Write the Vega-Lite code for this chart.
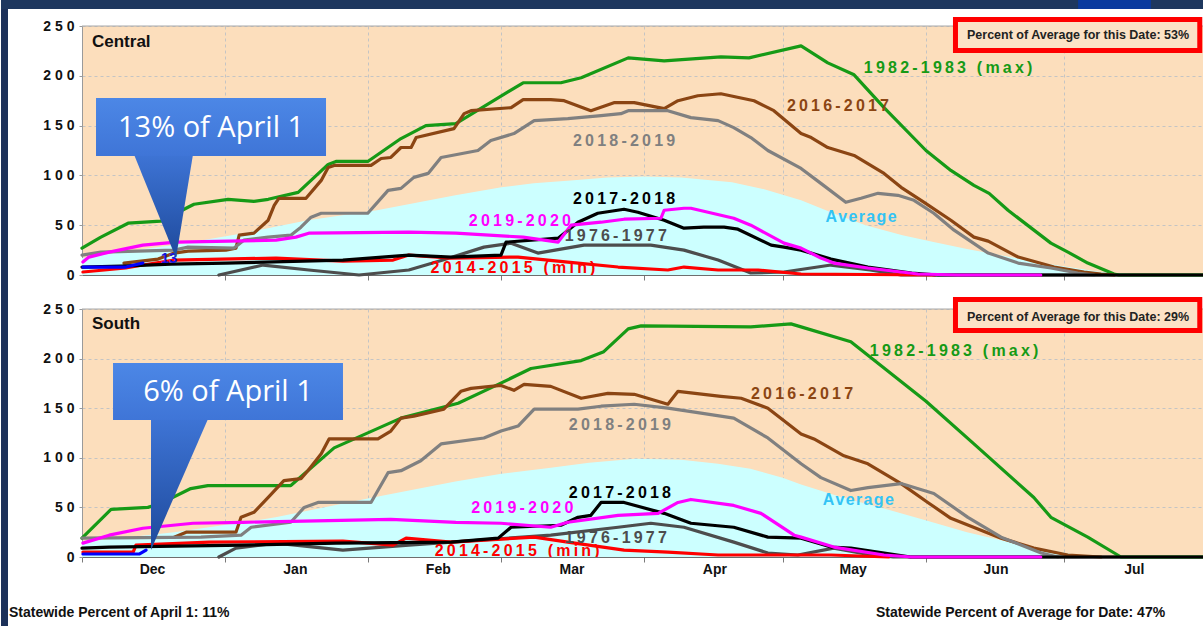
{
"$schema":"https://vega.github.io/schema/vega-lite/v6.json",
"background":"white",
"padding":0,
"spacing":0,
"config":{"view":{"fill":"#FCDEBC","stroke":null},"font":"Liberation Sans"},
"datasets":{
"one":[{}],
"cAvg":[{"d":0,"v":17},{"d":10,"v":24},{"d":20,"v":30},{"d":35,"v":42},{"d":49,"v":55},{"d":64,"v":65},{"d":81,"v":80},{"d":91,"v":88},{"d":98,"v":92},{"d":106,"v":95},{"d":114,"v":98},{"d":122,"v":99},{"d":130,"v":98},{"d":141,"v":93},{"d":148,"v":86},{"d":156,"v":75},{"d":163,"v":62},{"d":170,"v":50},{"d":178,"v":40},{"d":185,"v":33},{"d":192,"v":26},{"d":199,"v":20},{"d":207,"v":13},{"d":214,"v":8},{"d":221,"v":3},{"d":228,"v":1},{"d":235,"v":0},{"d":243.2,"v":0}],
"sAvg":[{"d":0,"v":15},{"d":10,"v":20},{"d":20,"v":25},{"d":35,"v":35},{"d":42,"v":40},{"d":62,"v":59},{"d":81,"v":76},{"d":91,"v":84},{"d":101.7,"v":90},{"d":110,"v":95},{"d":120,"v":99},{"d":130,"v":98},{"d":138,"v":94},{"d":145,"v":89},{"d":152,"v":80},{"d":156,"v":73},{"d":165,"v":60},{"d":174,"v":49},{"d":183,"v":37},{"d":192,"v":25},{"d":201,"v":15},{"d":210,"v":7},{"d":217,"v":1},{"d":225,"v":0},{"d":243.2,"v":0}],
"cLines":[
{"s":"1976-1977","d":29.7,"v":0},{"s":"1976-1977","d":39.3,"v":10},{"s":"1976-1977","d":49.2,"v":5},{"s":"1976-1977","d":60.1,"v":0},{"s":"1976-1977","d":70.9,"v":5},{"s":"1976-1977","d":78.3,"v":15},{"s":"1976-1977","d":87.2,"v":28},{"s":"1976-1977","d":93.1,"v":32},{"s":"1976-1977","d":98.9,"v":22},{"s":"1976-1977","d":108.9,"v":30},{"s":"1976-1977","d":123.4,"v":30},{"s":"1976-1977","d":130.6,"v":25},{"s":"1976-1977","d":138,"v":15},{"s":"1976-1977","d":145.1,"v":2},{"s":"1976-1977","d":152.3,"v":3},{"s":"1976-1977","d":162.5,"v":10},{"s":"1976-1977","d":171,"v":5},{"s":"1976-1977","d":177.7,"v":0},{"s":"1976-1977","d":243.2,"v":0},
{"s":"1982-1983","d":0,"v":27},{"s":"1982-1983","d":4.1,"v":38},{"s":"1982-1983","d":10,"v":52},{"s":"1982-1983","d":17.1,"v":54},{"s":"1982-1983","d":23,"v":68},{"s":"1982-1983","d":24.3,"v":71},{"s":"1982-1983","d":31.7,"v":76},{"s":"1982-1983","d":37.3,"v":74},{"s":"1982-1983","d":40.4,"v":76},{"s":"1982-1983","d":46.9,"v":83},{"s":"1982-1983","d":53.4,"v":111},{"s":"1982-1983","d":55.1,"v":114},{"s":"1982-1983","d":62,"v":114},{"s":"1982-1983","d":69.2,"v":137},{"s":"1982-1983","d":74.6,"v":150},{"s":"1982-1983","d":81.1,"v":152},{"s":"1982-1983","d":95.7,"v":193},{"s":"1982-1983","d":103.9,"v":193},{"s":"1982-1983","d":108.3,"v":198},{"s":"1982-1983","d":118.5,"v":218},{"s":"1982-1983","d":126.3,"v":215},{"s":"1982-1983","d":138.6,"v":219},{"s":"1982-1983","d":144.7,"v":218},{"s":"1982-1983","d":156,"v":230},{"s":"1982-1983","d":161.8,"v":213},{"s":"1982-1983","d":167.5,"v":201},{"s":"1982-1983","d":174,"v":168},{"s":"1982-1983","d":183.1,"v":125},{"s":"1982-1983","d":188.5,"v":105},{"s":"1982-1983","d":193.5,"v":90},{"s":"1982-1983","d":196.8,"v":82},{"s":"1982-1983","d":200.9,"v":65},{"s":"1982-1983","d":210.2,"v":32},{"s":"1982-1983","d":213.9,"v":23},{"s":"1982-1983","d":218.2,"v":12},{"s":"1982-1983","d":223.9,"v":1},{"s":"1982-1983","d":225,"v":0},{"s":"1982-1983","d":243.2,"v":0},
{"s":"2014-2015","d":0.2,"v":3},{"s":"2014-2015","d":9.5,"v":7},{"s":"2014-2015","d":13.2,"v":10},{"s":"2014-2015","d":20,"v":15},{"s":"2014-2015","d":42.1,"v":17},{"s":"2014-2015","d":56.6,"v":14},{"s":"2014-2015","d":67.5,"v":15},{"s":"2014-2015","d":70.9,"v":20},{"s":"2014-2015","d":80.1,"v":17},{"s":"2014-2015","d":94.6,"v":18},{"s":"2014-2015","d":105.4,"v":13},{"s":"2014-2015","d":116.3,"v":8},{"s":"2014-2015","d":127.1,"v":5},{"s":"2014-2015","d":130.6,"v":8},{"s":"2014-2015","d":138,"v":5},{"s":"2014-2015","d":146.7,"v":5},{"s":"2014-2015","d":156,"v":1},{"s":"2014-2015","d":185,"v":0},
{"s":"2016-2017","d":9.1,"v":12},{"s":"2016-2017","d":16.5,"v":16},{"s":"2016-2017","d":20,"v":22},{"s":"2016-2017","d":23,"v":24},{"s":"2016-2017","d":31.2,"v":25},{"s":"2016-2017","d":33.4,"v":27},{"s":"2016-2017","d":34.1,"v":40},{"s":"2016-2017","d":37.3,"v":42},{"s":"2016-2017","d":40.4,"v":55},{"s":"2016-2017","d":41.7,"v":70},{"s":"2016-2017","d":42.7,"v":77},{"s":"2016-2017","d":48.6,"v":77},{"s":"2016-2017","d":51.9,"v":95},{"s":"2016-2017","d":53.4,"v":108},{"s":"2016-2017","d":54.7,"v":110},{"s":"2016-2017","d":62.7,"v":110},{"s":"2016-2017","d":64.9,"v":117},{"s":"2016-2017","d":67,"v":118},{"s":"2016-2017","d":69.2,"v":128},{"s":"2016-2017","d":71.4,"v":128},{"s":"2016-2017","d":72.5,"v":138},{"s":"2016-2017","d":80.7,"v":147},{"s":"2016-2017","d":82.9,"v":162},{"s":"2016-2017","d":84.4,"v":165},{"s":"2016-2017","d":93.1,"v":168},{"s":"2016-2017","d":95.7,"v":176},{"s":"2016-2017","d":101.7,"v":176},{"s":"2016-2017","d":104.6,"v":175},{"s":"2016-2017","d":110.4,"v":165},{"s":"2016-2017","d":115.4,"v":173},{"s":"2016-2017","d":119.8,"v":173},{"s":"2016-2017","d":126.3,"v":167},{"s":"2016-2017","d":129.3,"v":175},{"s":"2016-2017","d":133.6,"v":180},{"s":"2016-2017","d":138.6,"v":182},{"s":"2016-2017","d":145.8,"v":175},{"s":"2016-2017","d":150.1,"v":165},{"s":"2016-2017","d":156,"v":142},{"s":"2016-2017","d":158.2,"v":138},{"s":"2016-2017","d":161.8,"v":128},{"s":"2016-2017","d":167.5,"v":120},{"s":"2016-2017","d":174,"v":102},{"s":"2016-2017","d":177.7,"v":88},{"s":"2016-2017","d":182.7,"v":73},{"s":"2016-2017","d":188.5,"v":55},{"s":"2016-2017","d":193.5,"v":38},{"s":"2016-2017","d":196.6,"v":34},{"s":"2016-2017","d":203.1,"v":18},{"s":"2016-2017","d":210.9,"v":8},{"s":"2016-2017","d":217.4,"v":3},{"s":"2016-2017","d":221.1,"v":1},{"s":"2016-2017","d":224,"v":0},
{"s":"2018-2019","d":0,"v":20},{"s":"2018-2019","d":4.1,"v":23},{"s":"2018-2019","d":20,"v":25},{"s":"2018-2019","d":23,"v":28},{"s":"2018-2019","d":33,"v":27},{"s":"2018-2019","d":35.1,"v":35},{"s":"2018-2019","d":40.4,"v":38},{"s":"2018-2019","d":45.3,"v":40},{"s":"2018-2019","d":47.5,"v":48},{"s":"2018-2019","d":49.7,"v":58},{"s":"2018-2019","d":51.9,"v":62},{"s":"2018-2019","d":62,"v":62},{"s":"2018-2019","d":66.4,"v":85},{"s":"2018-2019","d":69.2,"v":87},{"s":"2018-2019","d":72,"v":98},{"s":"2018-2019","d":75.1,"v":102},{"s":"2018-2019","d":77.9,"v":118},{"s":"2018-2019","d":85.9,"v":125},{"s":"2018-2019","d":88.7,"v":135},{"s":"2018-2019","d":93.7,"v":142},{"s":"2018-2019","d":98.1,"v":155},{"s":"2018-2019","d":105.4,"v":157},{"s":"2018-2019","d":112.6,"v":160},{"s":"2018-2019","d":116.9,"v":162},{"s":"2018-2019","d":118.5,"v":165},{"s":"2018-2019","d":127.1,"v":165},{"s":"2018-2019","d":132.1,"v":158},{"s":"2018-2019","d":138,"v":155},{"s":"2018-2019","d":141.4,"v":148},{"s":"2018-2019","d":145.1,"v":138},{"s":"2018-2019","d":148.8,"v":125},{"s":"2018-2019","d":156,"v":107},{"s":"2018-2019","d":160.3,"v":92},{"s":"2018-2019","d":165.7,"v":73},{"s":"2018-2019","d":169,"v":77},{"s":"2018-2019","d":172.7,"v":82},{"s":"2018-2019","d":177,"v":80},{"s":"2018-2019","d":180.5,"v":75},{"s":"2018-2019","d":184.8,"v":62},{"s":"2018-2019","d":189.2,"v":45},{"s":"2018-2019","d":196.6,"v":22},{"s":"2018-2019","d":203.1,"v":12},{"s":"2018-2019","d":210.2,"v":7},{"s":"2018-2019","d":216,"v":2},{"s":"2018-2019","d":219.6,"v":0},
{"s":"2017-2018","d":0,"v":8},{"s":"2017-2018","d":8.5,"v":9},{"s":"2017-2018","d":19.3,"v":11},{"s":"2017-2018","d":31.2,"v":12},{"s":"2017-2018","d":56.6,"v":15},{"s":"2017-2018","d":70.9,"v":20},{"s":"2017-2018","d":80.1,"v":18},{"s":"2017-2018","d":90.9,"v":20},{"s":"2017-2018","d":92,"v":33},{"s":"2017-2018","d":103.3,"v":37},{"s":"2017-2018","d":107.6,"v":53},{"s":"2017-2018","d":111.9,"v":62},{"s":"2017-2018","d":117.6,"v":66},{"s":"2017-2018","d":120.6,"v":63},{"s":"2017-2018","d":126.3,"v":55},{"s":"2017-2018","d":130.6,"v":47},{"s":"2017-2018","d":134.9,"v":48},{"s":"2017-2018","d":139.3,"v":48},{"s":"2017-2018","d":142.3,"v":46},{"s":"2017-2018","d":149.5,"v":30},{"s":"2017-2018","d":152.3,"v":28},{"s":"2017-2018","d":156,"v":25},{"s":"2017-2018","d":162.5,"v":16},{"s":"2017-2018","d":170.5,"v":8},{"s":"2017-2018","d":180,"v":2},{"s":"2017-2018","d":185.7,"v":0},{"s":"2017-2018","d":243.2,"v":0},
{"s":"2019-2020","d":0.2,"v":13},{"s":"2019-2020","d":1.5,"v":18},{"s":"2019-2020","d":5.9,"v":23},{"s":"2019-2020","d":13.2,"v":30},{"s":"2019-2020","d":20.4,"v":33},{"s":"2019-2020","d":42.1,"v":35},{"s":"2019-2020","d":46.4,"v":38},{"s":"2019-2020","d":49.2,"v":42},{"s":"2019-2020","d":70.9,"v":43},{"s":"2019-2020","d":81.1,"v":42},{"s":"2019-2020","d":95.7,"v":38},{"s":"2019-2020","d":103.3,"v":33},{"s":"2019-2020","d":106.1,"v":50},{"s":"2019-2020","d":112.6,"v":53},{"s":"2019-2020","d":117.6,"v":56},{"s":"2019-2020","d":125.6,"v":57},{"s":"2019-2020","d":126.3,"v":65},{"s":"2019-2020","d":130.6,"v":67},{"s":"2019-2020","d":132.1,"v":67},{"s":"2019-2020","d":141.4,"v":57},{"s":"2019-2020","d":145.1,"v":50},{"s":"2019-2020","d":152.3,"v":32},{"s":"2019-2020","d":156,"v":27},{"s":"2019-2020","d":160.3,"v":17},{"s":"2019-2020","d":163.1,"v":12},{"s":"2019-2020","d":170.5,"v":7},{"s":"2019-2020","d":181.4,"v":1},{"s":"2019-2020","d":190,"v":0},{"s":"2019-2020","d":208,"v":0},
{"s":"Current","d":0.2,"v":8},{"s":"Current","d":9.5,"v":8},{"s":"Current","d":13.2,"v":12}
],
"sLines":[
{"s":"1976-1977","d":29.7,"v":0},{"s":"1976-1977","d":33.4,"v":9},{"s":"1976-1977","d":42.1,"v":14},{"s":"1976-1977","d":56.6,"v":7},{"s":"1976-1977","d":70.9,"v":12},{"s":"1976-1977","d":80.1,"v":15},{"s":"1976-1977","d":101.7,"v":22},{"s":"1976-1977","d":116.3,"v":30},{"s":"1976-1977","d":123.4,"v":34},{"s":"1976-1977","d":130.6,"v":30},{"s":"1976-1977","d":141.4,"v":15},{"s":"1976-1977","d":148.8,"v":4},{"s":"1976-1977","d":155.3,"v":2},{"s":"1976-1977","d":163.1,"v":9},{"s":"1976-1977","d":170,"v":3},{"s":"1976-1977","d":176,"v":0},{"s":"1976-1977","d":243.2,"v":0},
{"s":"1982-1983","d":0,"v":19},{"s":"1982-1983","d":6.3,"v":48},{"s":"1982-1983","d":14.3,"v":50},{"s":"1982-1983","d":17.1,"v":54},{"s":"1982-1983","d":23.6,"v":69},{"s":"1982-1983","d":27.3,"v":72},{"s":"1982-1983","d":45.3,"v":72},{"s":"1982-1983","d":54.7,"v":110},{"s":"1982-1983","d":69.2,"v":140},{"s":"1982-1983","d":81.6,"v":155},{"s":"1982-1983","d":90.3,"v":174},{"s":"1982-1983","d":97.4,"v":190},{"s":"1982-1983","d":108.3,"v":198},{"s":"1982-1983","d":113.2,"v":207},{"s":"1982-1983","d":118.5,"v":230},{"s":"1982-1983","d":121.3,"v":233},{"s":"1982-1983","d":145.1,"v":232},{"s":"1982-1983","d":153.8,"v":235},{"s":"1982-1983","d":156,"v":232},{"s":"1982-1983","d":166.8,"v":217},{"s":"1982-1983","d":183.1,"v":157},{"s":"1982-1983","d":193.5,"v":114},{"s":"1982-1983","d":206.5,"v":60},{"s":"1982-1983","d":210.2,"v":40},{"s":"1982-1983","d":218.2,"v":20},{"s":"1982-1983","d":225.4,"v":0},{"s":"1982-1983","d":243.2,"v":0},
{"s":"2014-2015","d":0.2,"v":5},{"s":"2014-2015","d":11.1,"v":5},{"s":"2014-2015","d":11.7,"v":12},{"s":"2014-2015","d":27.6,"v":15},{"s":"2014-2015","d":56.6,"v":16},{"s":"2014-2015","d":67.5,"v":12},{"s":"2014-2015","d":70.3,"v":19},{"s":"2014-2015","d":80.1,"v":15},{"s":"2014-2015","d":98.1,"v":20},{"s":"2014-2015","d":105.4,"v":15},{"s":"2014-2015","d":117.6,"v":7},{"s":"2014-2015","d":127.1,"v":5},{"s":"2014-2015","d":138,"v":2},{"s":"2014-2015","d":162.5,"v":2},{"s":"2014-2015","d":175,"v":0},
{"s":"2016-2017","d":20,"v":20},{"s":"2016-2017","d":22.6,"v":25},{"s":"2016-2017","d":33.4,"v":25},{"s":"2016-2017","d":34.5,"v":40},{"s":"2016-2017","d":37.3,"v":45},{"s":"2016-2017","d":40.4,"v":60},{"s":"2016-2017","d":43.8,"v":77},{"s":"2016-2017","d":47.5,"v":79},{"s":"2016-2017","d":49,"v":87},{"s":"2016-2017","d":51.9,"v":104},{"s":"2016-2017","d":53.6,"v":119},{"s":"2016-2017","d":64.2,"v":119},{"s":"2016-2017","d":67,"v":127},{"s":"2016-2017","d":69.2,"v":140},{"s":"2016-2017","d":72,"v":142},{"s":"2016-2017","d":78.5,"v":149},{"s":"2016-2017","d":82.2,"v":167},{"s":"2016-2017","d":84.4,"v":170},{"s":"2016-2017","d":90.9,"v":173},{"s":"2016-2017","d":93.7,"v":168},{"s":"2016-2017","d":95.9,"v":174},{"s":"2016-2017","d":101.7,"v":172},{"s":"2016-2017","d":108.3,"v":160},{"s":"2016-2017","d":114.1,"v":165},{"s":"2016-2017","d":119.8,"v":164},{"s":"2016-2017","d":127.1,"v":154},{"s":"2016-2017","d":129.3,"v":167},{"s":"2016-2017","d":138.6,"v":162},{"s":"2016-2017","d":143,"v":160},{"s":"2016-2017","d":148.8,"v":150},{"s":"2016-2017","d":156,"v":124},{"s":"2016-2017","d":158.8,"v":119},{"s":"2016-2017","d":165.3,"v":102},{"s":"2016-2017","d":170.5,"v":94},{"s":"2016-2017","d":177.7,"v":74},{"s":"2016-2017","d":183.5,"v":55},{"s":"2016-2017","d":188.5,"v":39},{"s":"2016-2017","d":199.4,"v":19},{"s":"2016-2017","d":206.5,"v":9},{"s":"2016-2017","d":213.9,"v":2},{"s":"2016-2017","d":221.1,"v":0},
{"s":"2018-2019","d":0,"v":19},{"s":"2018-2019","d":25.8,"v":20},{"s":"2018-2019","d":34.5,"v":22},{"s":"2018-2019","d":36.7,"v":30},{"s":"2018-2019","d":45.3,"v":35},{"s":"2018-2019","d":48.2,"v":50},{"s":"2018-2019","d":51.2,"v":55},{"s":"2018-2019","d":62.7,"v":55},{"s":"2018-2019","d":66.4,"v":85},{"s":"2018-2019","d":69.2,"v":87},{"s":"2018-2019","d":73.5,"v":97},{"s":"2018-2019","d":77.9,"v":114},{"s":"2018-2019","d":87.2,"v":120},{"s":"2018-2019","d":90.9,"v":127},{"s":"2018-2019","d":94.6,"v":132},{"s":"2018-2019","d":98.1,"v":149},{"s":"2018-2019","d":107.6,"v":149},{"s":"2018-2019","d":112.6,"v":152},{"s":"2018-2019","d":119.8,"v":154},{"s":"2018-2019","d":127.1,"v":150},{"s":"2018-2019","d":134.3,"v":145},{"s":"2018-2019","d":141.4,"v":140},{"s":"2018-2019","d":148.8,"v":120},{"s":"2018-2019","d":156,"v":94},{"s":"2018-2019","d":160.3,"v":80},{"s":"2018-2019","d":166.8,"v":67},{"s":"2018-2019","d":170.5,"v":70},{"s":"2018-2019","d":177.7,"v":74},{"s":"2018-2019","d":184.8,"v":64},{"s":"2018-2019","d":192.2,"v":40},{"s":"2018-2019","d":199.4,"v":20},{"s":"2018-2019","d":208.1,"v":4},{"s":"2018-2019","d":211.7,"v":0},
{"s":"2017-2018","d":0,"v":9},{"s":"2017-2018","d":5.9,"v":10},{"s":"2017-2018","d":34.9,"v":12},{"s":"2017-2018","d":55.1,"v":14},{"s":"2017-2018","d":80.1,"v":15},{"s":"2017-2018","d":90.3,"v":19},{"s":"2017-2018","d":93.1,"v":30},{"s":"2017-2018","d":103.9,"v":32},{"s":"2017-2018","d":107.6,"v":40},{"s":"2017-2018","d":110.4,"v":42},{"s":"2017-2018","d":112.6,"v":55},{"s":"2017-2018","d":117.6,"v":55},{"s":"2017-2018","d":126.3,"v":44},{"s":"2017-2018","d":132.1,"v":34},{"s":"2017-2018","d":141.4,"v":30},{"s":"2017-2018","d":148.8,"v":20},{"s":"2017-2018","d":156,"v":19},{"s":"2017-2018","d":162.5,"v":10},{"s":"2017-2018","d":166.8,"v":9},{"s":"2017-2018","d":179.8,"v":0},{"s":"2017-2018","d":243.2,"v":0},
{"s":"2019-2020","d":0.2,"v":14},{"s":"2019-2020","d":5.9,"v":22},{"s":"2019-2020","d":13.2,"v":29},{"s":"2019-2020","d":24.1,"v":34},{"s":"2019-2020","d":34.9,"v":35},{"s":"2019-2020","d":67,"v":38},{"s":"2019-2020","d":81.1,"v":35},{"s":"2019-2020","d":90.9,"v":34},{"s":"2019-2020","d":101.7,"v":30},{"s":"2019-2020","d":105.4,"v":35},{"s":"2019-2020","d":116.3,"v":42},{"s":"2019-2020","d":125,"v":44},{"s":"2019-2020","d":129.3,"v":55},{"s":"2019-2020","d":132.1,"v":58},{"s":"2019-2020","d":141.4,"v":52},{"s":"2019-2020","d":147.3,"v":44},{"s":"2019-2020","d":154.5,"v":22},{"s":"2019-2020","d":156,"v":20},{"s":"2019-2020","d":163.1,"v":10},{"s":"2019-2020","d":174,"v":2},{"s":"2019-2020","d":180,"v":0},{"s":"2019-2020","d":208,"v":0},
{"s":"Current","d":0.2,"v":3},{"s":"Current","d":12.4,"v":3},{"s":"Current","d":13.9,"v":7}
],
"cLabels":[
{"s":"1982-1983","t":"1\u20099\u20098\u20092\u2009-\u20091\u20099\u20098\u20093\u2009 \u2009(\u2009m\u2009a\u2009x\u2009)","d":187.9,"v":208},
{"s":"2016-2017","t":"2\u20090\u20091\u20096\u2009-\u20092\u20090\u20091\u20097","d":164.0,"v":170},
{"s":"2018-2019","t":"2\u20090\u20091\u20098\u2009-\u20092\u20090\u20091\u20099","d":117.6,"v":135},
{"s":"2017-2018","t":"2\u20090\u20091\u20097\u2009-\u20092\u20090\u20091\u20098","d":117.6,"v":76},
{"s":"2019-2020","t":"2\u20090\u20091\u20099\u2009-\u20092\u20090\u20092\u20090","d":95.0,"v":54},
{"s":"1976-1977","t":"1\u20099\u20097\u20096\u2009-\u20091\u20099\u20097\u20097","d":115.8,"v":39},
{"s":"2014-2015","t":"2\u20090\u20091\u20094\u2009-\u20092\u20090\u20091\u20095\u2009 \u2009(\u2009m\u2009i\u2009n\u2009)","d":93.5,"v":7},
{"s":"Average","t":"A\u200av\u200ae\u200ar\u200aa\u200ag\u200ae","d":169.0,"v":58}
],
"sLabels":[
{"s":"1982-1983","t":"1\u20099\u20098\u20092\u2009-\u20091\u20099\u20098\u20093\u2009 \u2009(\u2009m\u2009a\u2009x\u2009)","d":189.2,"v":208},
{"s":"2016-2017","t":"2\u20090\u20091\u20096\u2009-\u20092\u20090\u20091\u20097","d":156.2,"v":164},
{"s":"2018-2019","t":"2\u20090\u20091\u20098\u2009-\u20092\u20090\u20091\u20099","d":116.7,"v":133},
{"s":"2017-2018","t":"2\u20090\u20091\u20097\u2009-\u20092\u20090\u20091\u20098","d":116.7,"v":65},
{"s":"2019-2020","t":"2\u20090\u20091\u20099\u2009-\u20092\u20090\u20092\u20090","d":95.5,"v":49},
{"s":"1976-1977","t":"1\u20099\u20097\u20096\u2009-\u20091\u20099\u20097\u20097","d":115.8,"v":19},
{"s":"2014-2015","t":"2\u20090\u20091\u20094\u2009-\u20092\u20090\u20091\u20095\u2009 \u2009(\u2009m\u2009i\u2009n\u2009)","d":94.4,"v":6},
{"s":"Average","t":"A\u200av\u200ae\u200ar\u200aa\u200ag\u200ae","d":168.4,"v":57}
],
"cTri":[{"d":11.28,"top":121,"bot":121},{"d":20.39,"top":121,"bot":17.1},{"d":24.08,"top":121,"bot":121}],
"sTri":[{"d":14.97,"top":139,"bot":7.1},{"d":27.33,"top":139,"bot":139}]
},
"vconcat":[
{
"width":1121,"height":249,
"layer":[
{"data":{"name":"cLines"},"mark":{"type":"line","opacity":0},"encoding":{
"x":{"field":"d","type":"quantitative","scale":{"domain":[0,243.2],"nice":false,"zero":false},"axis":{"values":[31,62,91,122,152,183,213],"labels":false,"title":null,"grid":true,"gridDash":[3,3],"gridColor":"#C4C4C4","domainColor":"#6E6E6E","tickColor":"#7A7A7A","tickSize":5}},
"y":{"field":"v","type":"quantitative","scale":{"domain":[0,250],"nice":false,"zero":false},"axis":{"values":[0,50,100,150,200,250],"labelExpr":"datum.value==0?'0':datum.value==50?'5 0':datum.value==100?'1 0 0':datum.value==150?'1 5 0':datum.value==200?'2 0 0':'2 5 0'","title":null,"grid":true,"gridDash":[3,3],"gridColor":"#C4C4C4","domainColor":"#9A9A9A","tickColor":"#9A9A9A","tickSize":3,"labelPadding":5,"labelFont":"Liberation Sans","labelFontWeight":"bold","labelFontSize":14,"labelColor":"#111111"}},
"detail":{"field":"s"}}},
{"data":{"name":"one"},"mark":{"type":"rect","color":"#1C3159"},"encoding":{"x":{"datum":-17.573,"type":"quantitative","scale":{"domain":[0,243.2],"nice":false,"zero":false}},"x2":{"datum":-16.054},"y":{"datum":276.1,"type":"quantitative","scale":{"domain":[0,250],"nice":false,"zero":false}},"y2":{"datum":-15.06}}},
{"data":{"name":"one"},"mark":{"type":"rect","color":"#1E375E"},"encoding":{"x":{"datum":-17.573,"type":"quantitative","scale":{"domain":[0,243.2],"nice":false,"zero":false}},"x2":{"datum":243.2},"y":{"datum":276.1,"type":"quantitative","scale":{"domain":[0,250],"nice":false,"zero":false}},"y2":{"datum":267.07}}},
{"data":{"name":"one"},"mark":{"type":"rect","color":"#0A3A9E"},"encoding":{"x":{"datum":216.1,"type":"quantitative","scale":{"domain":[0,243.2],"nice":false,"zero":false}},"x2":{"datum":231.9},"y":{"datum":276.1,"type":"quantitative","scale":{"domain":[0,250],"nice":false,"zero":false}},"y2":{"datum":267.07}}},
{"data":{"name":"cAvg"},"mark":{"type":"area","color":"#CCFFFF"},"encoding":{"x":{"field":"d","type":"quantitative","scale":{"domain":[0,243.2],"nice":false,"zero":false}},"y":{"field":"v","type":"quantitative","scale":{"domain":[0,250],"nice":false,"zero":false}}}},
{"data":{"name":"one"},"mark":{"type":"rule","color":"#A8A8A8","strokeWidth":1},"encoding":{"x":{"datum":0,"type":"quantitative","scale":{"domain":[0,243.2],"nice":false,"zero":false}},"x2":{"datum":243.2},"y":{"datum":250,"type":"quantitative","scale":{"domain":[0,250],"nice":false,"zero":false}}}},
{"data":{"name":"cLines"},"mark":{"type":"line","strokeJoin":"round","strokeCap":"round","strokeWidth":3.2},"encoding":{
"x":{"field":"d","type":"quantitative","scale":{"domain":[0,243.2],"nice":false,"zero":false}},
"y":{"field":"v","type":"quantitative","scale":{"domain":[0,250],"nice":false,"zero":false}},
"color":{"field":"s","type":"nominal","scale":{"domain":["1976-1977","1982-1983","2014-2015","2016-2017","2017-2018","2018-2019","2019-2020","Current","Average"],"range":["#4D4D4D","#169A16","#FF0000","#8B4513","#000000","#808080","#FF00FF","#0000FF","#33C3F5"]},"legend":null}}},
{"data":{"name":"cLabels"},"mark":{"type":"text","font":"Liberation Sans","fontWeight":"bold","fontSize":16,"align":"center","baseline":"middle","clip":true},"encoding":{"x":{"field":"d","type":"quantitative","scale":{"domain":[0,243.2],"nice":false,"zero":false}},"y":{"field":"v","type":"quantitative","scale":{"domain":[0,250],"nice":false,"zero":false}},"text":{"field":"t"},"color":{"field":"s","type":"nominal","scale":{"domain":["1976-1977","1982-1983","2014-2015","2016-2017","2017-2018","2018-2019","2019-2020","Current","Average"],"range":["#4D4D4D","#169A16","#FF0000","#8B4513","#000000","#808080","#FF00FF","#0000FF","#33C3F5"]},"legend":null}}},
{"data":{"name":"one"},"mark":{"type":"text","text":"13","font":"Liberation Sans","fontWeight":"bold","fontSize":15,"color":"#1515E0","align":"center","baseline":"middle"},"encoding":{"x":{"datum":18.9,"type":"quantitative","scale":{"domain":[0,243.2],"nice":false,"zero":false}},"y":{"datum":17,"type":"quantitative","scale":{"domain":[0,250],"nice":false,"zero":false}}}},
{"data":{"name":"one"},"mark":{"type":"rect","fill":"#FCE2C6","stroke":"#FF0000","strokeWidth":5},"encoding":{"x":{"datum":189.5,"type":"quantitative","scale":{"domain":[0,243.2],"nice":false,"zero":false}},"x2":{"datum":242.5},"y":{"datum":256.5,"type":"quantitative","scale":{"domain":[0,250],"nice":false,"zero":false}},"y2":{"datum":225.4}}},
{"data":{"name":"one"},"mark":{"type":"text","text":"Percent of Average for this Date: 53%","font":"Liberation Sans","fontWeight":"bold","fontSize":12.5,"color":"#222222","align":"left","baseline":"middle"},"encoding":{"x":{"datum":192.0,"type":"quantitative","scale":{"domain":[0,243.2],"nice":false,"zero":false}},"y":{"datum":241,"type":"quantitative","scale":{"domain":[0,250],"nice":false,"zero":false}}}},
{"data":{"name":"one"},"mark":{"type":"text","text":"Central","font":"Liberation Sans","fontWeight":"bold","fontSize":17,"color":"#111111","align":"left","baseline":"middle"},"encoding":{"x":{"datum":2.17,"type":"quantitative","scale":{"domain":[0,243.2],"nice":false,"zero":false}},"y":{"datum":233.9,"type":"quantitative","scale":{"domain":[0,250],"nice":false,"zero":false}}}},
{"data":{"name":"cTri"},"mark":{"type":"area","fill":{"gradient":"linear","x1":0,"y1":0,"x2":0,"y2":1,"stops":[{"offset":0,"color":"#3E74D5"},{"offset":1,"color":"#1E4A9C"}]}},"encoding":{"x":{"field":"d","type":"quantitative","scale":{"domain":[0,243.2],"nice":false,"zero":false}},"y":{"field":"top","type":"quantitative","scale":{"domain":[0,250],"nice":false,"zero":false}},"y2":{"field":"bot"}}},
{"data":{"name":"one"},"mark":{"type":"rect","fill":{"gradient":"linear","x1":0,"y1":0,"x2":0,"y2":1,"stops":[{"offset":0,"color":"#4C87E6"},{"offset":1,"color":"#3F75D7"}]}},"encoding":{"x":{"datum":3.04,"type":"quantitative","scale":{"domain":[0,243.2],"nice":false,"zero":false}},"x2":{"datum":52.94},"y":{"datum":177.7,"type":"quantitative","scale":{"domain":[0,250],"nice":false,"zero":false}},"y2":{"datum":119.5}}},
{"data":{"name":"one"},"mark":{"type":"text","text":"13% of April 1","font":"Open Sans","fontSize":29,"color":"#FFFFFF","align":"center","baseline":"middle"},"encoding":{"x":{"datum":27.99,"type":"quantitative","scale":{"domain":[0,243.2],"nice":false,"zero":false}},"y":{"datum":147.6,"type":"quantitative","scale":{"domain":[0,250],"nice":false,"zero":false}}}}
]
},
{
"width":1121,"height":248,
"layer":[
{"data":{"name":"sLines"},"mark":{"type":"line","opacity":0},"encoding":{
"x":{"field":"d","type":"quantitative","scale":{"domain":[0,243.2],"nice":false,"zero":false},"axis":{"values":[0,31,62,91,122,152,183,213],"labelExpr":"datum.value==0?'Dec':datum.value==31?'Jan':datum.value==62?'Feb':datum.value==91?'Mar':datum.value==122?'Apr':datum.value==152?'May':datum.value==183?'Jun':'Jul'","labelOffset":70,"title":null,"grid":true,"gridDash":[3,3],"gridColor":"#C4C4C4","domainColor":"#6E6E6E","tickColor":"#7A7A7A","tickSize":5,"labelPadding":0,"labelOverlap":false,"labelFlush":false,"labelFont":"Liberation Sans","labelFontWeight":"bold","labelFontSize":14,"labelColor":"#111111"}},
"y":{"field":"v","type":"quantitative","scale":{"domain":[0,250],"nice":false,"zero":false},"axis":{"values":[0,50,100,150,200,250],"labelExpr":"datum.value==0?'0':datum.value==50?'5 0':datum.value==100?'1 0 0':datum.value==150?'1 5 0':datum.value==200?'2 0 0':'2 5 0'","title":null,"grid":true,"gridDash":[3,3],"gridColor":"#C4C4C4","domainColor":"#9A9A9A","tickColor":"#9A9A9A","tickSize":3,"labelPadding":5,"labelFont":"Liberation Sans","labelFontWeight":"bold","labelFontSize":14,"labelColor":"#111111"}},
"detail":{"field":"s"}}},
{"data":{"name":"one"},"mark":{"type":"rect","color":"#1C3159"},"encoding":{"x":{"datum":-17.573,"type":"quantitative","scale":{"domain":[0,243.2],"nice":false,"zero":false}},"x2":{"datum":-16.054},"y":{"datum":269.15,"type":"quantitative","scale":{"domain":[0,250],"nice":false,"zero":false}},"y2":{"datum":-69.56}}},
{"data":{"name":"sAvg"},"mark":{"type":"area","color":"#CCFFFF"},"encoding":{"x":{"field":"d","type":"quantitative","scale":{"domain":[0,243.2],"nice":false,"zero":false}},"y":{"field":"v","type":"quantitative","scale":{"domain":[0,250],"nice":false,"zero":false}}}},
{"data":{"name":"one"},"mark":{"type":"rule","color":"#A8A8A8","strokeWidth":1},"encoding":{"x":{"datum":0,"type":"quantitative","scale":{"domain":[0,243.2],"nice":false,"zero":false}},"x2":{"datum":243.2},"y":{"datum":250,"type":"quantitative","scale":{"domain":[0,250],"nice":false,"zero":false}}}},
{"data":{"name":"sLines"},"mark":{"type":"line","strokeJoin":"round","strokeCap":"round","strokeWidth":3.2},"encoding":{
"x":{"field":"d","type":"quantitative","scale":{"domain":[0,243.2],"nice":false,"zero":false}},
"y":{"field":"v","type":"quantitative","scale":{"domain":[0,250],"nice":false,"zero":false}},
"color":{"field":"s","type":"nominal","scale":{"domain":["1976-1977","1982-1983","2014-2015","2016-2017","2017-2018","2018-2019","2019-2020","Current","Average"],"range":["#4D4D4D","#169A16","#FF0000","#8B4513","#000000","#808080","#FF00FF","#0000FF","#33C3F5"]},"legend":null}}},
{"data":{"name":"sLabels"},"mark":{"type":"text","font":"Liberation Sans","fontWeight":"bold","fontSize":16,"align":"center","baseline":"middle","clip":true},"encoding":{"x":{"field":"d","type":"quantitative","scale":{"domain":[0,243.2],"nice":false,"zero":false}},"y":{"field":"v","type":"quantitative","scale":{"domain":[0,250],"nice":false,"zero":false}},"text":{"field":"t"},"color":{"field":"s","type":"nominal","scale":{"domain":["1976-1977","1982-1983","2014-2015","2016-2017","2017-2018","2018-2019","2019-2020","Current","Average"],"range":["#4D4D4D","#169A16","#FF0000","#8B4513","#000000","#808080","#FF00FF","#0000FF","#33C3F5"]},"legend":null}}},
{"data":{"name":"one"},"mark":{"type":"rect","fill":"#FCE2C6","stroke":"#FF0000","strokeWidth":5},"encoding":{"x":{"datum":189.5,"type":"quantitative","scale":{"domain":[0,243.2],"nice":false,"zero":false}},"x2":{"datum":242.5},"y":{"datum":259.6,"type":"quantitative","scale":{"domain":[0,250],"nice":false,"zero":false}},"y2":{"datum":228.3}}},
{"data":{"name":"one"},"mark":{"type":"text","text":"Percent of Average for this Date: 29%","font":"Liberation Sans","fontWeight":"bold","fontSize":12.5,"color":"#222222","align":"left","baseline":"middle"},"encoding":{"x":{"datum":192.0,"type":"quantitative","scale":{"domain":[0,243.2],"nice":false,"zero":false}},"y":{"datum":241.9,"type":"quantitative","scale":{"domain":[0,250],"nice":false,"zero":false}}}},
{"data":{"name":"one"},"mark":{"type":"text","text":"South","font":"Liberation Sans","fontWeight":"bold","fontSize":17,"color":"#111111","align":"left","baseline":"middle"},"encoding":{"x":{"datum":2.17,"type":"quantitative","scale":{"domain":[0,243.2],"nice":false,"zero":false}},"y":{"datum":234.9,"type":"quantitative","scale":{"domain":[0,250],"nice":false,"zero":false}}}},
{"data":{"name":"one"},"mark":{"type":"text","text":"Statewide Percent of April 1: 11%","font":"Liberation Sans","fontWeight":"bold","fontSize":14,"color":"#111111","align":"left","baseline":"middle"},"encoding":{"x":{"datum":-15.84,"type":"quantitative","scale":{"domain":[0,243.2],"nice":false,"zero":false}},"y":{"datum":-56.5,"type":"quantitative","scale":{"domain":[0,250],"nice":false,"zero":false}}}},
{"data":{"name":"one"},"mark":{"type":"text","text":"Statewide Percent of Average for Date: 47%","font":"Liberation Sans","fontWeight":"bold","fontSize":14,"color":"#111111","align":"left","baseline":"middle"},"encoding":{"x":{"datum":172.25,"type":"quantitative","scale":{"domain":[0,243.2],"nice":false,"zero":false}},"y":{"datum":-56.5,"type":"quantitative","scale":{"domain":[0,250],"nice":false,"zero":false}}}},
{"data":{"name":"sTri"},"mark":{"type":"area","fill":{"gradient":"linear","x1":0,"y1":0,"x2":0,"y2":1,"stops":[{"offset":0,"color":"#3E74D5"},{"offset":1,"color":"#1E4A9C"}]}},"encoding":{"x":{"field":"d","type":"quantitative","scale":{"domain":[0,243.2],"nice":false,"zero":false}},"y":{"field":"top","type":"quantitative","scale":{"domain":[0,250],"nice":false,"zero":false}},"y2":{"field":"bot"}}},
{"data":{"name":"one"},"mark":{"type":"rect","fill":{"gradient":"linear","x1":0,"y1":0,"x2":0,"y2":1,"stops":[{"offset":0,"color":"#4C87E6"},{"offset":1,"color":"#3F75D7"}]}},"encoding":{"x":{"datum":6.73,"type":"quantitative","scale":{"domain":[0,243.2],"nice":false,"zero":false}},"x2":{"datum":56.62},"y":{"datum":195.6,"type":"quantitative","scale":{"domain":[0,250],"nice":false,"zero":false}},"y2":{"datum":138.1}}},
{"data":{"name":"one"},"mark":{"type":"text","text":"6% of April 1","font":"Open Sans","fontSize":29,"color":"#FFFFFF","align":"center","baseline":"middle"},"encoding":{"x":{"datum":31.67,"type":"quantitative","scale":{"domain":[0,243.2],"nice":false,"zero":false}},"y":{"datum":166.3,"type":"quantitative","scale":{"domain":[0,250],"nice":false,"zero":false}}}}
]
}
]
}
